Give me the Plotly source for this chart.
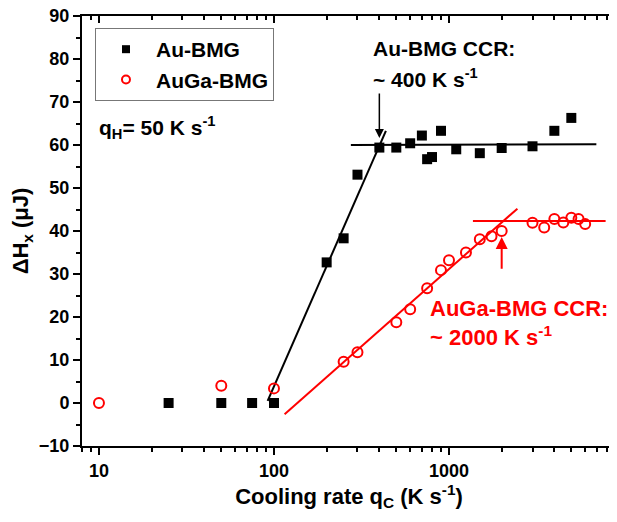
import math
import plotly.graph_objects as go

# ---------------- data ----------------
au_x = [25, 50, 75, 100, 200, 250, 300, 400, 500, 600, 700, 750, 800, 900, 1100, 1500, 2000, 3000, 4000, 5000]
au_y = [0, 0, 0, 0, 32.7, 38.3, 53.1, 59.4, 59.4, 60.4, 62.2, 56.7, 57.2, 63.3, 59.0, 58.1, 59.3, 59.7, 63.3, 66.3]

auga_x = [10, 50, 100, 250, 300, 500, 600, 750, 900, 1000, 1250, 1500, 1750, 2000, 3000, 3500, 4000, 4500, 5000, 5500, 6000]
auga_y = [0, 4.0, 3.4, 9.6, 11.8, 18.8, 21.8, 26.7, 30.9, 33.2, 35.0, 38.1, 38.8, 40.0, 41.9, 40.8, 42.8, 42.0, 43.1, 42.8, 41.6]

# fit lines (endpoints)
au_rise_x = [92, 436]
au_rise_y = [0.5, 63.3]
au_flat_x = [275, 6950]
au_flat_y = [60.0, 60.2]
auga_rise_x = [115, 2460]
auga_rise_y = [-2.6, 45.2]
auga_flat_x = [1370, 7850]
auga_flat_y = [42.3, 42.3]

x_tick_vals = [10, 100, 1000]
x_tick_text = ["10", "100", "1000"]
x_minor_vals = [8, 9, 20, 30, 40, 50, 60, 70, 80, 90, 200, 300, 400, 500, 600, 700, 800, 900,
                2000, 3000, 4000, 5000, 6000, 7000, 8000, 9000]
y_tick_vals = [-10, 0, 10, 20, 30, 40, 50, 60, 70, 80, 90]
y_minor_vals = [-5, 5, 15, 25, 35, 45, 55, 65, 75, 85]
x_range = [8, 9000]
y_range = [-10, 90]

# arrows: (x, tail_y, tip_y)
au_arrow = (400, 72.3, 61.6)
auga_arrow = (2000, 30.9, 38.6)

RED = "#ff0000"
FONT = "Liberation Sans, Arial, sans-serif"
lg = math.log10
XR = [lg(x_range[0]), lg(x_range[1])]

fig = go.Figure()

fig.add_trace(go.Scatter(x=au_rise_x, y=au_rise_y, mode="lines",
                         line=dict(color="black", width=2), showlegend=False, hoverinfo="skip"))
fig.add_trace(go.Scatter(x=au_flat_x, y=au_flat_y, mode="lines",
                         line=dict(color="black", width=2), showlegend=False, hoverinfo="skip"))
fig.add_trace(go.Scatter(x=auga_rise_x, y=auga_rise_y, mode="lines",
                         line=dict(color=RED, width=2), showlegend=False, hoverinfo="skip"))
fig.add_trace(go.Scatter(x=auga_flat_x, y=auga_flat_y, mode="lines",
                         line=dict(color=RED, width=2), showlegend=False, hoverinfo="skip"))

fig.add_trace(go.Scatter(x=au_x, y=au_y, mode="markers", name="Au-BMG",
                         marker=dict(symbol="square", size=10, color="black"),
                         showlegend=False))
fig.add_trace(go.Scatter(x=auga_x, y=auga_y, mode="markers", name="AuGa-BMG",
                         marker=dict(symbol="circle-open", size=10, color=RED,
                                     line=dict(width=2, color=RED)),
                         showlegend=False))

# legend-only entries (smaller symbols as in the reference)
fig.add_trace(go.Scatter(x=[None], y=[None], mode="markers", name="Au-BMG",
                         marker=dict(symbol="square", size=8, color="black")))
fig.add_trace(go.Scatter(x=[None], y=[None], mode="markers", name="AuGa-BMG",
                         marker=dict(symbol="circle-open", size=8, color=RED,
                                     line=dict(width=2, color=RED))))

# invisible trace for the mirrored top/right axes
fig.add_trace(go.Scatter(x=[None], y=[None], xaxis="x2", yaxis="y2",
                         showlegend=False, hoverinfo="skip"))

tickfont = dict(family=FONT, size=18, color="black", weight="bold")
titlefont = dict(family=FONT, size=22, color="black", weight="bold")

common = dict(showgrid=False, zeroline=False, automargin=False, tickcolor="black", tickwidth=2,
              showline=True, linewidth=2, linecolor="black", ticklabeloverflow="allow")

def minor(vals, side):
    return dict(tickmode="array", tickvals=vals, ticks=side, ticklen=4,
                tickwidth=2, tickcolor="black", showgrid=False)

# page body has an 8px default margin, so the figure is sized to fit the 617x522 window
fig.update_layout(
    width=609, height=514,
    margin=dict(l=74, r=1, t=8, b=76),
    paper_bgcolor="white", plot_bgcolor="white",
    font=dict(family=FONT, color="black", weight="bold"),
    xaxis=dict(type="log", range=XR, tickmode="array", tickvals=x_tick_vals, ticktext=x_tick_text,
               ticks="outside", ticklen=7, tickfont=tickfont,
               minor=minor(x_minor_vals, "outside"),
               title=dict(text="Cooling rate q<sub>C</sub> (K s<sup>-1</sup>)",
                          font=titlefont, standoff=8), **common),
    yaxis=dict(range=y_range, tickmode="array", tickvals=y_tick_vals,
               ticks="outside", ticklen=7, tickfont=tickfont,
               minor=minor(y_minor_vals, "outside"),
               title=dict(text="ΔH<sub>x</sub> (μJ)", font=titlefont, standoff=6), **common),
    xaxis2=dict(type="log", range=XR, overlaying="x", side="top", anchor="y2",
                tickmode="array", tickvals=x_tick_vals, showticklabels=False,
                ticks="inside", ticklen=7, minor=minor(x_minor_vals, "inside"), **common),
    yaxis2=dict(range=y_range, overlaying="y", side="right", anchor="x2",
                tickmode="array", tickvals=y_tick_vals, showticklabels=False,
                ticks="inside", ticklen=7, minor=minor(y_minor_vals, "inside"), **common),
    legend=dict(x=0.0243, y=0.972, xanchor="left", yanchor="top",
                bordercolor="#777777", borderwidth=1, bgcolor="white",
                font=dict(family=FONT, size=21, color="black", weight="bold"),
                itemwidth=50, tracegroupgap=0),
    showlegend=True,
)

annot_font_k = dict(family=FONT, size=21, color="black", weight="bold")
annot_font_r = dict(family=FONT, size=22, color=RED, weight="bold")

fig.add_annotation(x=lg(9.75), y=64.0, xref="x", yref="y", xanchor="left", yanchor="middle",
                   text="q<sub>H</sub>= 50 K s<sup>-1</sup>", showarrow=False, font=annot_font_k)
fig.add_annotation(x=2.557, y=82.4, xref="x", yref="y", xanchor="left", yanchor="middle",
                   text="Au-BMG CCR:", showarrow=False, font=annot_font_k)
fig.add_annotation(x=2.557, y=75.5, xref="x", yref="y", xanchor="left", yanchor="middle",
                   text="~ 400 K s<sup>-1</sup>", showarrow=False, font=annot_font_k)
fig.add_annotation(x=2.880, y=22.0, xref="x", yref="y", xanchor="left", yanchor="middle",
                   text="AuGa-BMG CCR:", showarrow=False, font=annot_font_r)
fig.add_annotation(x=2.880, y=15.5, xref="x", yref="y", xanchor="left", yanchor="middle",
                   text="~ 2000 K s<sup>-1</sup>", showarrow=False, font=annot_font_r)

# arrows
fig.add_annotation(x=lg(au_arrow[0]), y=au_arrow[2], ax=lg(au_arrow[0]), ay=au_arrow[1],
                   xref="x", yref="y", axref="x", ayref="y", text="", showarrow=True,
                   arrowhead=2, arrowsize=1.2, arrowwidth=1.5, arrowcolor="black")
fig.add_annotation(x=lg(auga_arrow[0]), y=auga_arrow[2], ax=lg(auga_arrow[0]), ay=auga_arrow[1],
                   xref="x", yref="y", axref="x", ayref="y", text="", showarrow=True,
                   arrowhead=2, arrowsize=1.2, arrowwidth=2, arrowcolor=RED)

fig.write_html("out.html")
